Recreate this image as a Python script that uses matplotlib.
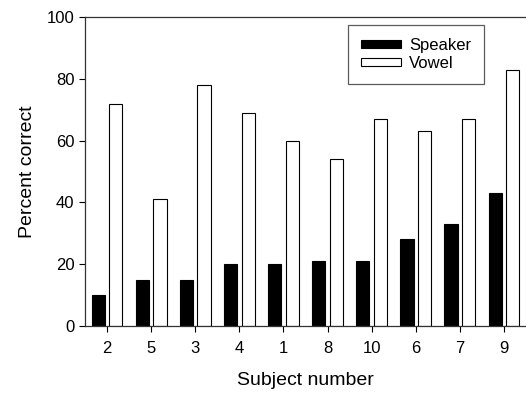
import matplotlib
matplotlib.use("Agg")
import matplotlib.pyplot as plt
import numpy as np

plt.rcParams['font.family'] = ['Liberation Sans', 'DejaVu Sans']

subjects = ['2', '5', '3', '4', '1', '8', '10', '6', '7', '9']
speaker = [10, 15, 15, 20, 20, 21, 21, 28, 33, 43]
vowel = [72, 41, 78, 69, 60, 54, 67, 63, 67, 83]
yticks = [0, 20, 40, 60, 80, 100]

fig = plt.figure(figsize=(5.26, 3.94), dpi=100)
ax = fig.add_axes([85/526, 1-326/394, 441/526, 309/394])

x = np.arange(len(subjects))
w = 0.3
off = 0.2
ax.bar(x - off, speaker, width=w, color='black', edgecolor='black', linewidth=0.8, label='Speaker')
ax.bar(x + off, vowel, width=w, color='white', edgecolor='black', linewidth=0.8, label='Vowel')

ax.set_xlim(-0.5, 9.5)
ax.set_ylim(0, 100)
ax.set_xticks(x)
ax.set_xticklabels(subjects)
ax.set_yticks(yticks)
ax.tick_params(direction='out', length=4, width=0.8, labelsize=12, colors='black')
ax.tick_params(axis='x', pad=7)
for s in ['left', 'bottom', 'top']:
    ax.spines[s].set_color('#333333')
    ax.spines[s].set_linewidth(0.9)
ax.spines['right'].set_visible(False)

ax.set_xlabel('Subject number', fontsize=14, labelpad=11)
ax.set_ylabel('Percent correct', fontsize=14, labelpad=8)

leg = ax.legend(loc='upper left', bbox_to_anchor=((348-85)/441, 1-(25-17)/309),
                fontsize=12, frameon=True, fancybox=False, edgecolor='#333333',
                handlelength=2.35, handleheight=0.35, borderpad=0.8, labelspacing=0.15,
                handletextpad=0.5, borderaxespad=0)
leg.get_frame().set_linewidth(0.9)

fig.savefig('out.png', dpi=100)
